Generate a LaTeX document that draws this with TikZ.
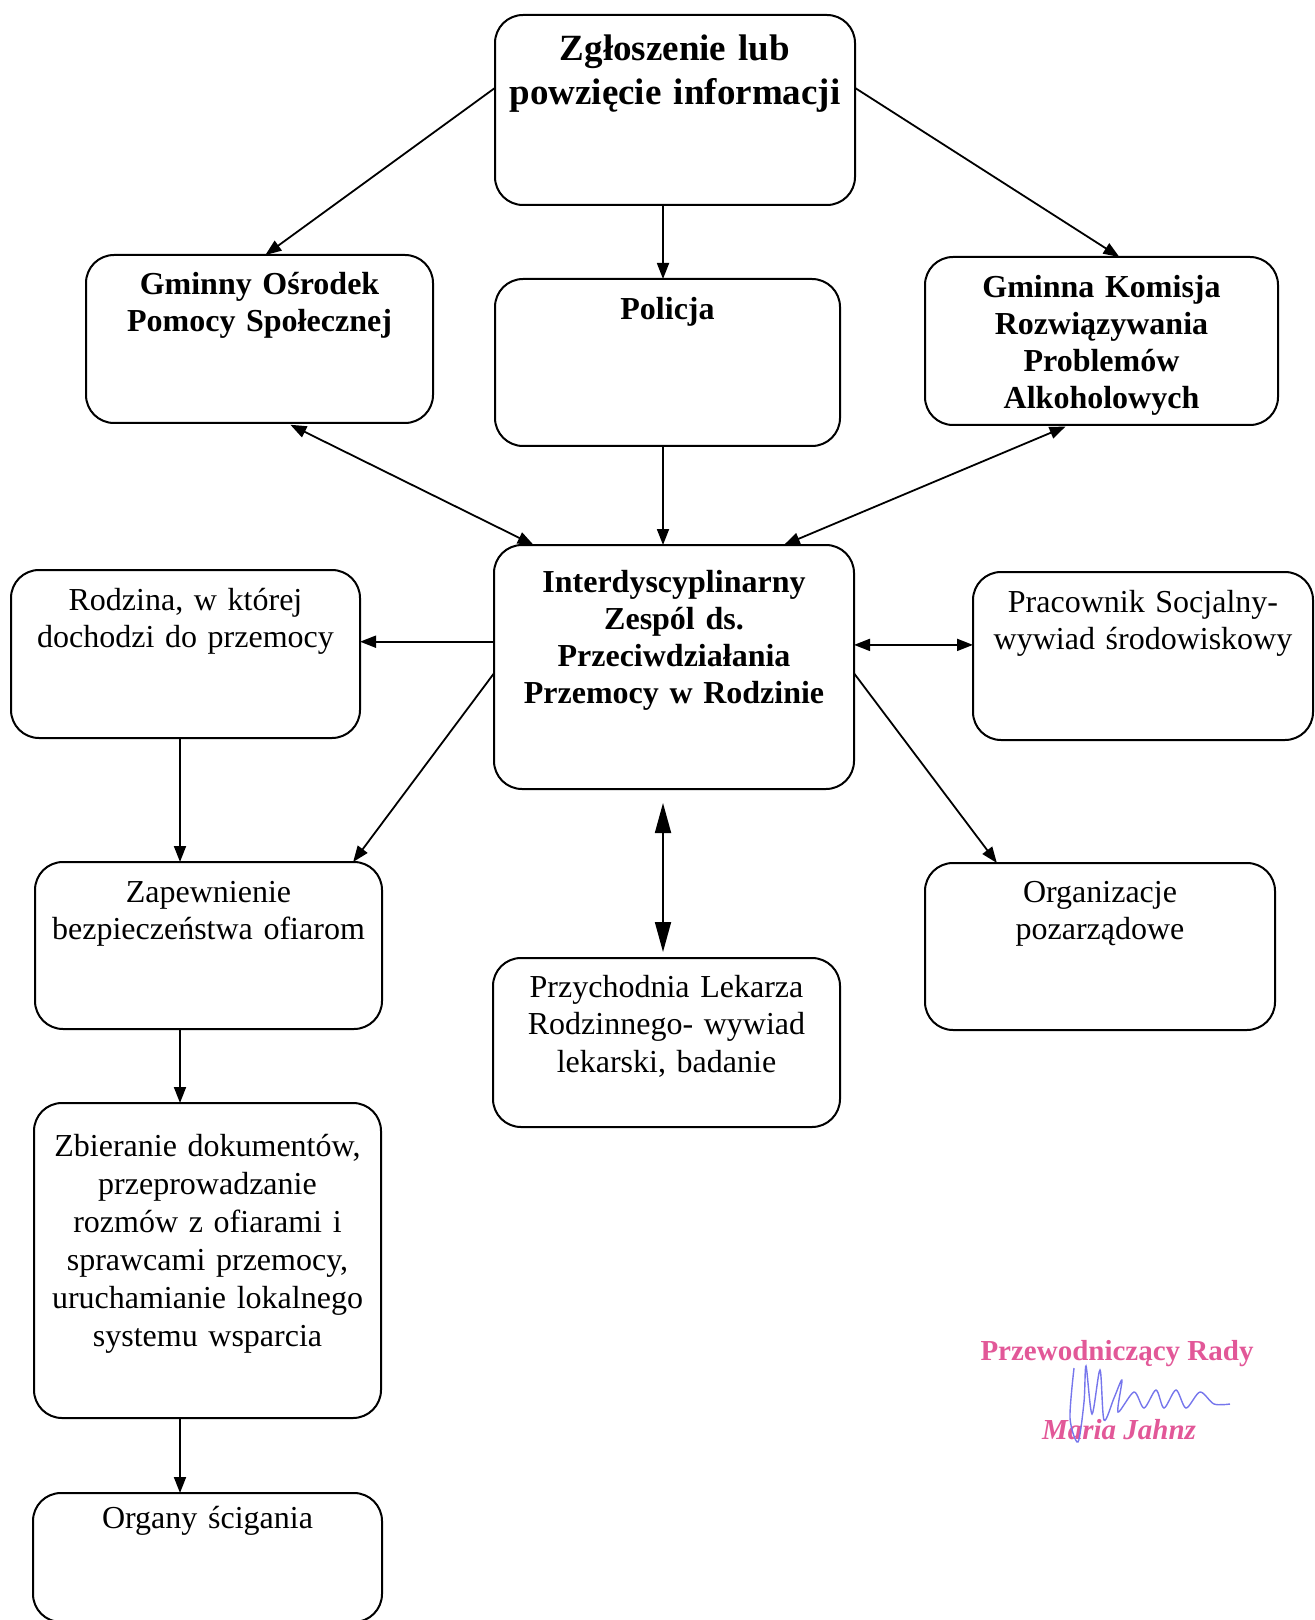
\documentclass[tikz,border=0pt]{standalone}
\usepackage{fontspec}
\setmainfont{Liberation Serif}
\usetikzlibrary{arrows.meta}

\definecolor{stamp}{RGB}{226,88,152}
\definecolor{ink}{RGB}{118,118,236}

\newcommand{\plainfnt}{\fontsize{16}{18.75}\selectfont}
\newcommand{\boldfnt}{\fontsize{16}{18.4}\selectfont\bfseries}
\newcommand{\topfnt}{\fontsize{18.5}{22}\selectfont\bfseries}

\tikzset{
	box/.style={draw,line width=1pt,rounded corners=14pt,align=center,inner sep=0pt,outer sep=0pt,font=\plainfnt},
	bbox/.style={box,font=\boldfnt},
	arr/.style={line width=0.9pt,-{Triangle[length=8pt,width=6pt]}},
	darr/.style={line width=0.9pt,{Triangle[length=8pt,width=6pt]}-{Triangle[length=8pt,width=6pt]}},
	bigarr/.style={line width=0.9pt,{Triangle[length=15pt,width=8pt]}-{Triangle[length=15pt,width=8pt]}}
}

\begin{document}
\begin{tikzpicture}[x=0.5pt,y=-0.5pt]
\useasboundingbox (0,0) rectangle (1315,1620);
% boxes
	\node[box,font=\topfnt,text width=180pt,text height=23pt,text depth=72pt] (zgl) at (675,110) {Zgłoszenie lub\\powzięcie informacji};

	\node[bbox,text width=173.5pt,text height=20pt,text depth=64pt] (gops) at (259.5,339) {Gminny Ośrodek\\Pomocy Społecznej};
	\node[bbox,text width=172.5pt,text height=20.5pt,text depth=63pt] (pol) at (667.5,362.5) {Policja};
	\node[bbox,text width=176.5pt,text height=20.5pt,text depth=63.5pt] (gk) at (1101.5,341) {Gminna Komisja\\Rozwiązywania\\Problemów\\Alkoholowych};

	\node[bbox,text width=180pt,text height=23.5pt,text depth=98.5pt,font=\fontsize{16}{18.5}\selectfont\bfseries] (idz) at (674,667) {Interdyscyplinarny\\Zespól ds.\\Przeciwdziałania\\Przemocy w Rodzinie};
	\node[box,text width=174.5pt,text height=20pt,text depth=64pt] (rodz) at (185.5,654) {Rodzina, w której\\dochodzi do przemocy};
	\node[box,text width=170pt,text height=20pt,text depth=64pt] (prac) at (1143,656) {Pracownik Socjalny-\\wywiad środowiskowy};

	\node[box,text width=173.5pt,text height=20pt,text depth=63.5pt] (zap) at (208.5,945.5) {Zapewnienie\\bezpieczeństwa ofiarom};
	\node[box,text width=173.5pt,text height=19.5pt,text depth=65pt] (prz) at (666.5,1042.5) {Przychodnia Lekarza\\Rodzinnego- wywiad\\lekarski, badanie};
	\node[box,text width=175pt,text height=19.5pt,text depth=64pt] (org) at (1100,946.5) {Organizacje\\pozarządowe};

	\node[box,text width=173.5pt,text height=26.5pt,text depth=131pt,font=\fontsize{16}{19}\selectfont] (zb) at (207.5,1260.5) {Zbieranie dokumentów,\\przeprowadzanie\\rozmów z ofiarami i\\sprawcami przemocy,\\uruchamianie lokalnego\\systemu wsparcia};
	\node[box,text width=174.5pt,text height=17.5pt,text depth=47pt] (org2) at (207.5,1557.5) {Organy ścigania};

	%Links
	\draw[arr] (zgl.173) -- (gops.86);
	\draw[arr] (zgl.7) -- (gk.78);
	\draw[arr] ([xshift=-2.25pt]zgl.south -| pol.north) -- ([xshift=-2.25pt]pol.north);
	\draw[arr] ([xshift=-2.25pt]pol.south) -- ([xshift=-2.25pt]pol.south |- idz.north);

	\draw[darr,shorten <=2pt] (gops.288) -- (idz.139);
	\draw[darr,shorten <=2pt] (gk.249) -- (idz.48);

	\draw[arr] (idz.172) -- (idz.172 -| rodz.east);
	\draw[darr] (idz.7) -- (idz.7 -| prac.west);
	\draw[arr] (idz.182) -- (zap.30);
	\draw[arr] (idz.358) -- (org.141);
	\draw[bigarr,shorten <=7pt,shorten >=3pt] ([xshift=-1.75pt]idz.south -| prz.north) -- ([xshift=-1.75pt]prz.north);

	\draw[arr] ([xshift=-2.75pt]rodz.south) -- ([xshift=-2.75pt]rodz.south |- zap.north);
	\draw[arr] ([xshift=-2.75pt]zap.south -| rodz.south) -- ([xshift=-2.75pt]zb.north -| rodz.south);
	\draw[arr] ([xshift=-2.75pt]zb.south -| rodz.south) -- ([xshift=-2.75pt]org2.north -| rodz.south);

	% podpis
	\node[text=stamp,font=\fontsize{14.5}{16}\selectfont\bfseries] (rada) at (1117,1354) {Przewodniczący Rady};
	\node[text=stamp,font=\fontsize{14.5}{16}\selectfont\bfseries\itshape] (jahnz) at (1119,1430) {Maria Jahnz};
	\draw[ink,line width=0.7pt] plot[smooth] coordinates {(1074,1368) (1070,1418) (1078,1442) (1084,1402) (1086,1366) (1092,1414) (1100,1370) (1104,1420) (1114,1398) (1122,1380) (1118,1412) (1134,1392) (1144,1408) (1156,1390) (1164,1408) (1176,1390) (1186,1408) (1200,1392) (1214,1404) (1230,1404)};
\end{tikzpicture}
\end{document}
